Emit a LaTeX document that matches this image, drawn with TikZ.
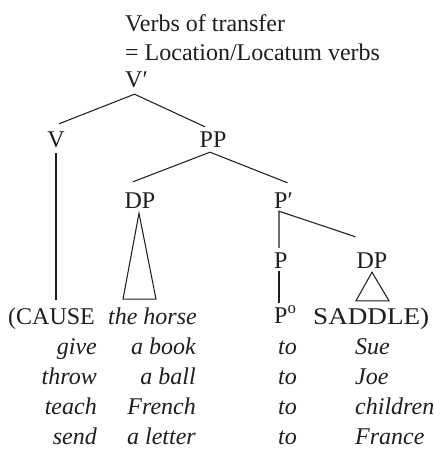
\documentclass[tikz,border=0pt]{standalone}
\usepackage{fontspec}
\usepackage{graphicx}
\setmainfont{Liberation Serif}
\usetikzlibrary{calc}
\definecolor{ink}{RGB}{30,30,30}
\begin{document}
\begin{tikzpicture}[x=1pt,y=-1pt,
  lbl/.style={inner sep=0pt, text=ink, font=\fontsize{24}{28}\selectfont},
  tlbl/.style={lbl, text height=16pt, text depth=0pt},
  itl/.style={lbl, font=\fontsize{24}{28}\selectfont\itshape},
  branch/.style={line width=1.05pt, draw=ink, line join=miter}]
\useasboundingbox (0,0) rectangle (433,449);
% title
\node[lbl,anchor=base west] (t1) at (125,32) {Verbs of transfer};
\node[lbl,anchor=base west] (t2) at (125,61) {= Location/Locatum verbs};
% tree labels
\node[tlbl,anchor=base west] (Vp) at (125,88) {V′};
\node[tlbl,anchor=base] (V) at (56,148) {V};
\node[tlbl,anchor=base] (PP) at (213,148) {PP};
\node[tlbl,anchor=base] (DP) at (140,208) {DP};
\node[tlbl,anchor=base west] (Pp) at (274,208) {P′};
\node[tlbl,anchor=base west] (P) at (274,268) {P};
\node[tlbl,anchor=base] (DPb) at (372,268) {DP};
\node[tlbl,anchor=base west] (Po) at (274,323) {P\textsuperscript{o}};
% leaves
\node[tlbl,anchor=base west] (cause) at (8,324) {(CAUSE};
\node[itl,anchor=base east] (horse) at (197,324) {the horse};
\node[tlbl,anchor=base west] (saddle) at (313,324) {\scalebox{1.13}[1]{SADDLE)}};
% rows
\foreach \v/\o/\d [count=\i] in {give/a book/Sue, throw/a ball/Joe, teach/French/children, send/a letter/France}{
  \node[itl,anchor=base east] (r\i a) at (97,{324+30*\i}) {\v};
  \node[itl,anchor=base east] (r\i b) at (196,{324+30*\i}) {\o};
  \node[itl,anchor=base west] (r\i c) at (278,{324+30*\i}) {to};
  \node[itl,anchor=base west] (r\i d) at (355,{324+30*\i}) {\d};
}
% branches
\draw[branch] ($(V.north)+(3,-8)$) -- ($(Vp.south)+(-2,6)$) -- ($(PP.north)+(-8,-5)$);
\draw[branch] ($(DP.north)+(-7,-10)$) -- ($(PP.south)+(-3,4)$) -- ($(Pp.north)+(4,-9)$);
\draw[branch,shorten <=5pt,shorten >=8pt] (V.south) -- (V.south |- cause.north);
\draw[branch] ($(P.north west)+(5,-4)$) -- ($(Pp.south west)+(5,3)$) -- ($(DPb.north west)+(-1,-15)$);
\draw[branch] ($(P.south west)+(5,3)$) -- ($(Po.north west)+(5,-4)$);
% triangles
\draw[branch] ($(DP.south)+(-1,5)$) -- ($(DP.south |- horse.north)+(-17,-8)$) -- ($(DP.south |- horse.north)+(16,-8)$) -- cycle;
\draw[branch] ($(DPb.south)+(0,4)$) -- ($(DPb.south |- saddle.north)+(-16,-7)$) -- ($(DPb.south |- saddle.north)+(17,-7)$) -- cycle;
\end{tikzpicture}
\end{document}
